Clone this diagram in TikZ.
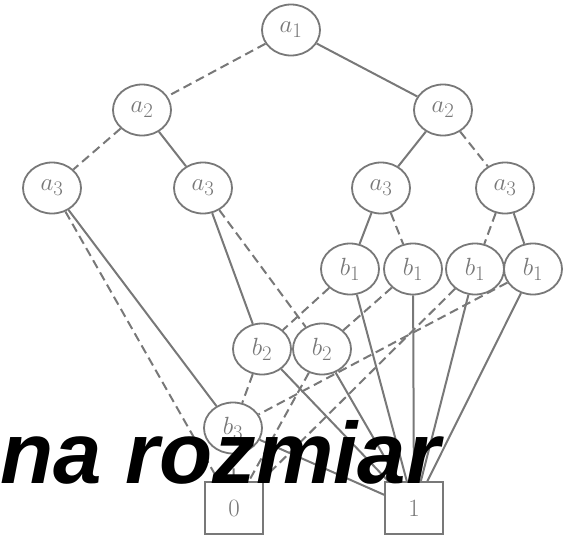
\documentclass[tikz,border=0pt]{standalone}
\usepackage{fontspec}
\newfontfamily\markfont{Liberation Sans}
\usetikzlibrary{shapes.geometric}
\definecolor{ink}{gray}{0.47}
\begin{document}
\begin{tikzpicture}[x=1pt,y=-1pt,
  var/.style={ellipse,draw=ink,line width=1.8pt,minimum width=58pt,minimum height=51pt,
    inner sep=0pt,fill=white,text=ink,font=\fontsize{24.88}{30}\selectfont},
  term/.style={rectangle,draw=ink,line width=1.8pt,minimum width=58pt,minimum height=52pt,
    inner sep=0pt,fill=white,text=ink,font=\fontsize{24.88}{30}\selectfont},
  hi/.style={draw=ink,line width=2pt},
  lo/.style={draw=ink,line width=2pt,dash pattern=on 9pt off 5pt}]
\useasboundingbox (0,0) rectangle (563,536);

% variable nodes
\node[var] (a1)  at (291,30)  {$a_1$};
\node[var] (a2l) at (142,110) {$a_2$};
\node[var] (a2r) at (443,110) {$a_2$};
\node[var] (a3a) at (52,188)  {$a_3$};
\node[var] (a3b) at (203,188) {$a_3$};
\node[var] (a3c) at (381,188) {$a_3$};
\node[var] (a3d) at (505,188) {$a_3$};
\node[var] (b1a) at (350,269) {$b_1$};
\node[var] (b1b) at (413,269) {$b_1$};
\node[var] (b1c) at (475,269) {$b_1$};
\node[var] (b1d) at (533,269) {$b_1$};
\node[var] (b2a) at (262,349) {$b_2$};
\node[var] (b2b) at (322,349) {$b_2$};
\node[var] (b3)  at (233,428) {$b_3$};

% terminal nodes
\node[term] (zero) at (234,508) {0};
\node[term] (one)  at (414,508) {1};

% 1-edges (solid)
\draw[hi] (a1) -- (a2r);
\draw[hi] (a2l) -- (a3b);
\draw[hi] (a2r) -- (a3c);
\draw[hi] (a3a) -- (b3);
\draw[hi] (a3b) -- (b2a);
\draw[hi] (a3c) -- (b1a);
\draw[hi] (a3d) -- (b1d);
\draw[hi] (b1a) -- (one);
\draw[hi] (b1b) -- (one);
\draw[hi] (b1c) -- (one);
\draw[hi] (b1d) -- (one);
\draw[hi] (b2a) -- (one);
\draw[hi] (b2b) -- (one);
\draw[hi] (b3) -- (one);

% 0-edges (dashed)
\draw[lo] (a1) -- (a2l);
\draw[lo] (a2l) -- (a3a);
\draw[lo] (a2r) -- (a3d);
\draw[lo] (a3a) -- (zero);
\draw[lo] (a3b) -- (b2b);
\draw[lo] (a3c) -- (b1b);
\draw[lo] (a3d) -- (b1c);
\draw[lo] (b1a) -- (b2a);
\draw[lo] (b1b) -- (b2b);
\draw[lo] (b1c) -- (zero);
\draw[lo] (b1d) -- (b3);
\draw[lo] (b2a) -- (b3);
\draw[lo] (b2b) -- (zero);
\draw[lo] (b3) -- (zero);

% overlaid caption
\node[anchor=base west,inner sep=0pt,text=black,
  font=\markfont\bfseries\itshape\fontsize{87}{92}\selectfont] (mark) at (0,483) {na rozmiar};
\end{tikzpicture}
\end{document}
